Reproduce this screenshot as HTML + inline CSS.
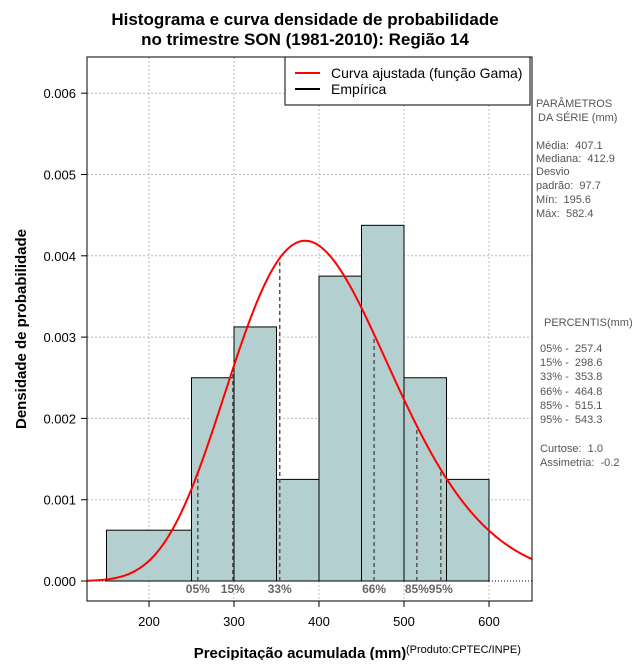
<!DOCTYPE html>
<html><head><meta charset="utf-8"><style>
body{margin:0;background:#fff}
svg text{font-family:"Liberation Sans",sans-serif;white-space:pre}
</style></head><body>
<svg id="c" width="640" height="660" xmlns="http://www.w3.org/2000/svg">
<text x="305" y="25" text-anchor="middle" font-size="17" font-weight="bold">Histograma e curva densidade de probabilidade</text>
<text x="305" y="45" text-anchor="middle" font-size="17" font-weight="bold">no trimestre SON (1981-2010): Região 14</text>
<g id="grid"></g>
<g id="bars"></g>
<g id="pct"></g>
<path id="curve" fill="none" stroke="#ff0000" stroke-width="2"/>
<rect x="87" y="57" width="445" height="544" fill="none" stroke="#000"/>
<g id="axes"></g>
<text x="300" y="658" text-anchor="middle" font-size="15" font-weight="bold">Precipitação acumulada (mm)</text>
<text x="406" y="653" font-size="11">(Produto:CPTEC/INPE)</text>
<text transform="translate(26,329) rotate(-90)" text-anchor="middle" font-size="15" font-weight="bold">Densidade de probabilidade</text>
<g>
<rect x="285" y="57" width="245" height="48" fill="#fff" stroke="#000"/>
<line x1="295" y1="73" x2="320" y2="73" stroke="#f00" stroke-width="2"/>
<text x="331" y="78" font-size="14">Curva ajustada (função Gama)</text>
<line x1="295" y1="89" x2="320" y2="89" stroke="#000" stroke-width="2"/>
<text x="331" y="94" font-size="14">Empírica</text>
</g>
<g font-size="11" fill="#555">
<text x="536" y="107">PARÂMETROS</text><text x="538" y="121">DA SÉRIE (mm)</text>
<text x="536" y="149">Média:  407.1</text><text x="536" y="162">Mediana:  412.9</text>
<text x="536" y="175">Desvio</text><text x="536" y="189">padrão:  97.7</text>
<text x="536" y="203">Mín:  195.6</text><text x="536" y="217">Máx:  582.4</text>
<text x="544" y="326">PERCENTIS(mm)</text>
<text x="540" y="352">05% -  257.4</text><text x="540" y="366">15% -  298.6</text>
<text x="540" y="380">33% -  353.8</text><text x="540" y="395">66% -  464.8</text>
<text x="540" y="409">85% -  515.1</text><text x="540" y="423">95% -  543.3</text>
<text x="540" y="452">Curtose:  1.0</text><text x="540" y="466">Assimetria:  -0.2</text>
</g>
</svg>
<script>
const binStarts=[150,250,300,350,400,450,500,550];
const binEnds=[250,300,350,400,450,500,550,600];
const densities=[0.000625,0.0025,0.003125,0.00125,0.00375,0.004375,0.0025,0.00125];
const xTicks=[200,300,400,500,600];
const yTicks=[0,0.001,0.002,0.003,0.004,0.005,0.006];
const yTickLabels=["0.000","0.001","0.002","0.003","0.004","0.005","0.006"];
const pctValues=[257.4,298.6,353.8,464.8,515.1,543.3];
const pctLabels=["05%","15%","33%","66%","85%","95%"];
const gammaMean=407.1, gammaSd=97.7;
const X=v=>149+(v-200)*0.85;
const Y=v=>581-v*81.3/0.001;
const NS="http://www.w3.org/2000/svg";
function mk(p,t,a){const e=document.createElementNS(NS,t);for(const k in a)e.setAttribute(k,a[k]);p.appendChild(e);return e;}
function lgam(z){const g=7,c=[0.99999999999980993,676.5203681218851,-1259.1392167224028,771.32342877765313,-176.61502916214059,12.507343278686905,-0.13857109526572012,9.9843695780195716e-6,1.5056327351493116e-7];z-=1;let x=c[0];for(let i=1;i<g+2;i++)x+=c[i]/(z+i);const t=z+g+0.5;return 0.5*Math.log(2*Math.PI)+(z+0.5)*Math.log(t)-t+Math.log(x);}
const k=(gammaMean/gammaSd)**2, th=gammaSd*gammaSd/gammaMean;
const pdf=x=>Math.exp((k-1)*Math.log(x)-x/th-lgam(k)-k*Math.log(th));
const grid=document.getElementById('grid'),bars=document.getElementById('bars'),pct=document.getElementById('pct'),axes=document.getElementById('axes');
xTicks.forEach(v=>{const l=mk(grid,'line',{x1:X(v),x2:X(v),y1:57,y2:601,stroke:'#bbb','stroke-dasharray':'2,2'});

});
yTicks.forEach(v=>{const l=mk(grid,'line',{x1:87,x2:532,y1:Y(v),y2:Y(v),stroke:v===0?'#000':'#bbb','stroke-dasharray':v===0?'1,2':'2,2'});

});
densities.forEach((d,i)=>{const r=mk(bars,'rect',{x:X(binStarts[i]),y:Y(d),width:X(binEnds[i])-X(binStarts[i]),height:Y(0)-Y(d),fill:'#b4cfcf',stroke:'#000'});

});
pctValues.forEach((v,i)=>{const l=mk(pct,'line',{x1:X(v),x2:X(v),y1:Y(0),y2:Y(pdf(v)),stroke:'#555','stroke-width':1.5,'stroke-dasharray':'4,3'});


const t=mk(pct,'text',{x:X(v),y:593,'text-anchor':'middle','font-size':12,'font-weight':'bold',fill:'#666'});
t.textContent=pctLabels[i];

});
let d='';for(let px=87;px<=532;px++){const v=200+(px-149)/0.85;d+=(px===87?'M':'L')+px+','+Y(pdf(v)).toFixed(2);}
document.getElementById('curve').setAttribute('d',d);
xTicks.forEach(v=>{mk(axes,'line',{x1:X(v),x2:X(v),y1:601,y2:607,stroke:'#000'});
const t=mk(axes,'text',{x:X(v),y:626,'text-anchor':'middle','font-size':13});t.textContent=v;

});
yTicks.forEach((v,i)=>{mk(axes,'line',{x1:81,x2:87,y1:Y(v),y2:Y(v),stroke:'#000'});
const t=mk(axes,'text',{x:76,y:Y(v)+5,'text-anchor':'end','font-size':13});t.textContent=yTickLabels[i];

});
</script>
</body></html>
